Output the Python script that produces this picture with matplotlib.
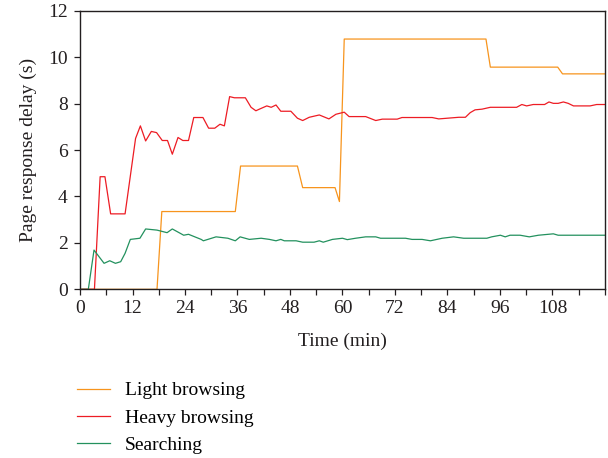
import numpy as np
import matplotlib
matplotlib.use('Agg')
import matplotlib.pyplot as plt
from matplotlib.ticker import MultipleLocator

plt.rcParams['font.family'] = ['Liberation Serif', 'DejaVu Serif']

# Light browsing (step-like)
light_t = [0.4, 17.6, 18.7, 35.5, 36.7, 49.7, 50.9, 58.3, 59.3, 60.4, 92.8, 93.8, 109.2, 110.3, 120]
light_d = [0, 0, 3.35, 3.35, 5.31, 5.31, 4.38, 4.38, 3.78, 10.78, 10.78, 9.57, 9.57, 9.28, 9.28]

# Heavy browsing
heavy_t = [0.4, 3.3, 4.6, 5.7, 7.0, 10.3, 12.7, 13.8, 15.0, 16.3, 17.5, 18.8, 20.0, 21.1,
           22.4, 23.5, 24.8, 26.0, 28.1, 29.4, 30.8, 32.0, 33.0, 34.2, 35.3, 37.8, 39.1,
           40.2, 41.0, 42.7, 43.7, 44.8, 45.9, 48.2, 49.7, 50.9, 52.4, 54.7, 56.9, 58.5,
           60.4, 61.5, 65.3, 67.6, 69.1, 72.5, 73.6, 80.5, 82.0, 86.6, 88.1, 89.2, 90.3,
           91.9, 93.8, 99.8, 101.0, 102.1, 103.6, 106.2, 107.2, 108.2, 109.3, 110.5,
           111.6, 112.8, 116.6, 118.1, 120]
heavy_d = [0, 0, 4.85, 4.85, 3.25, 3.25, 6.5, 7.04, 6.39, 6.8, 6.75, 6.41, 6.41, 5.82,
           6.54, 6.41, 6.41, 7.4, 7.4, 6.94, 6.94, 7.11, 7.04, 8.3, 8.25, 8.25, 7.84,
           7.69, 7.76, 7.9, 7.84, 7.94, 7.67, 7.67, 7.37, 7.27, 7.41, 7.51, 7.34, 7.54,
           7.63, 7.44, 7.44, 7.27, 7.33, 7.33, 7.4, 7.4, 7.34, 7.41, 7.41, 7.61, 7.73,
           7.76, 7.84, 7.84, 7.96, 7.9, 7.96, 7.96, 8.07, 8.01, 8.01, 8.07,
           8.01, 7.9, 7.9, 7.96, 7.96]

# Searching
search_t = [0.4, 1.9, 3.2, 5.5, 6.8, 8.1, 9.3, 10.3, 11.5, 13.7, 15.0, 17.6, 19.9, 21.1,
            23.7, 24.8, 27.7, 28.2, 31.1, 33.8, 35.5, 36.6, 38.7, 41.4, 43.3, 44.8, 45.9,
            46.7, 49.4, 50.9, 53.5, 54.7, 55.6, 57.7, 60.0, 61.1, 63.0, 65.3, 67.6, 68.7,
            74.4, 75.9, 78.2, 80.1, 82.8, 85.4, 87.7, 93.0, 94.1, 96.1, 97.2, 98.3, 100.6,
            102.7, 104.8, 108.2, 109.3, 120]
search_d = [0, 0, 1.69, 1.12, 1.23, 1.12, 1.19, 1.55, 2.15, 2.2, 2.6, 2.55, 2.44, 2.6,
            2.33, 2.37, 2.15, 2.09, 2.26, 2.2, 2.09, 2.26, 2.15, 2.2, 2.15, 2.09, 2.15,
            2.09, 2.09, 2.03, 2.03, 2.09, 2.03, 2.15, 2.2, 2.14, 2.2, 2.26, 2.26, 2.2,
            2.2, 2.15, 2.15, 2.09, 2.2, 2.26, 2.2, 2.2, 2.26, 2.33, 2.26, 2.33, 2.33,
            2.26, 2.33, 2.39, 2.33, 2.33]

xticks = np.arange(0, 109, 12)

fig = plt.figure(figsize=(6.08, 4.58), dpi=100)
ax = fig.add_axes([0.1316, 0.3683, 0.8634, 0.6083])

ax.plot(light_t, light_d, color='#F7941D', lw=0.9, label='Light browsing')
ax.plot(heavy_t, heavy_d, color='#ED1C24', lw=0.9, label='Heavy browsing')
ax.plot(search_t, search_d, color='#23915E', lw=0.9, label='Searching')

ax.set_xlim(0, 120)
ax.set_ylim(0, 12)
ax.set_xticks(xticks)
ax.xaxis.set_minor_locator(MultipleLocator(6))
ax.set_yticks(np.arange(0, 13, 2))
ax.tick_params(which='both', direction='out', length=4, width=0.9, labelsize=14,
               top=False, right=False, colors='#231F20')
ax.tick_params(axis='y', pad=5)
ax.tick_params(axis='x', pad=4)
for s in ax.spines.values():
    s.set_linewidth(1.0)
    s.set_color('#231F20')

ax.set_xlabel('Time (min)', fontsize=14, color='#231F20', labelpad=11)
ax.set_ylabel('Page response delay (s)', fontsize=14, color='#231F20', labelpad=8)

ax.legend(loc='upper left', bbox_to_anchor=(-0.006, -0.332), frameon=False, fontsize=14,
          handlelength=1.7, handletextpad=0.75, labelspacing=0.5, borderaxespad=0,
          borderpad=0)

fig.savefig('out.png', dpi=100)
